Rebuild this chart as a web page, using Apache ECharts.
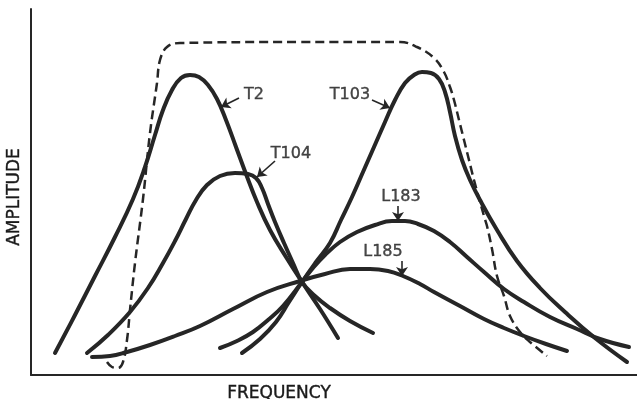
<!DOCTYPE html>
<html>
<head>
<meta charset="utf-8">
<script src="https://cdn.jsdelivr.net/npm/echarts@6/dist/echarts.min.js"></script>
<style>
  html, body { margin: 0; padding: 0; background: #ffffff; }
  #chart { width: 637px; height: 399px; }
</style>
</head>
<body>
<div id="chart"></div>
<script>
// Response curves: [frequency, amplitude] in arbitrary plot units
const curveT2 = [
  [24, 22], [44, 60], [64, 99], [84, 138], [102, 176], [114, 208], [124, 240],
  [132, 265], [141, 285], [150, 297], [159, 300], [168, 298], [177, 290], [186, 276],
  [195, 255], [205, 228], [215, 201], [226, 173], [239, 145], [255, 118], [271, 93],
  [289, 66], [307, 37]
];
const curveT104 = [
  [56, 22], [77, 40], [99, 63], [117, 87], [132, 112], [144, 134], [155, 156],
  [165, 175], [176, 190], [189, 199], [204, 202], [217, 201], [225, 197], [231, 187],
  [237, 171], [244, 153], [253, 132], [262, 112], [271, 93], [284, 79], [299, 67],
  [319, 54], [342, 42]
];
const curveT103 = [
  [211, 22], [229, 36], [245, 53], [258, 73], [271, 93], [285, 113], [299, 132],
  [310, 155], [321, 178], [332, 203], [343, 228], [354, 253], [364, 275], [374, 292],
  [383, 300], [391, 303], [400, 302], [408, 296], [414, 283], [419, 263], [424, 239],
  [431, 215], [439, 195], [449, 175], [466, 145], [486, 114], [509, 87], [534, 63],
  [564, 37], [596, 13]
];
const curveL183 = [
  [189, 27], [206, 34], [222, 43], [237, 55], [252, 69], [271, 93], [282, 107],
  [294, 120], [309, 133], [326, 143], [344, 150], [361, 154], [374, 154], [387, 151],
  [403, 144], [419, 133], [436, 118], [453, 103], [473, 86], [493, 73], [519, 58],
  [546, 46], [569, 36], [598, 28]
];
const curveL185 = [
  [61, 18], [79, 19], [96, 23], [119, 30], [144, 39], [169, 49], [202, 66],
  [236, 83], [269, 94], [294, 101], [319, 106], [339, 106], [357, 104], [372, 99],
  [389, 91], [403, 83], [429, 69], [453, 56], [473, 47], [493, 39], [515, 31],
  [536, 24]
];
// Overall pass-band envelope (dashed)
const envelope = [
  [76, 13], [81, 8], [87, 7], [92, 13], [96, 35], [99, 65], [104, 112], [112, 176],
  [119, 242], [126, 292], [129, 315], [136, 328], [149, 332], [269, 333], [369, 333],
  [386, 328], [403, 317], [413, 303], [419, 288], [423, 275], [428, 255], [433, 235],
  [438, 215], [443, 195], [453, 159], [456, 149], [461, 126], [466, 99], [473, 79],
  [479, 59], [489, 43], [499, 33], [516, 19]
];

// Curve names with label position and callout arrow (from, to)
const calloutNames = ['T2', 'T104', 'T103', 'L183', 'L185'];
const calloutText = [[223, 280], [260, 221], [319, 280], [370, 178], [352, 123]];
const calloutFrom = [[208, 277], [244, 214], [341, 275], [367, 169], [371, 114]];
const calloutTo   = [[190, 268], [226, 198], [359, 267], [367, 154], [371, 99]];

const ink = '#262626';
const textInk = '#1a1a1a';
const font = 'DejaVu Sans';

function curve(name, data) {
  return {
    name: name,
    type: 'line',
    data: data,
    smooth: 0.45,
    showSymbol: false,
    silent: true,
    lineStyle: { color: ink, width: 4, cap: 'round', join: 'round' }
  };
}

const titleText = {
  fontFamily: font, fontSize: 17, color: textInk,
  textBorderColor: textInk, textBorderWidth: 0.4
};

const chart = echarts.init(document.getElementById('chart'), null, { renderer: 'canvas' });

chart.setOption({
  animation: false,
  backgroundColor: '#ffffff',
  grid: { left: 31, right: 0, top: 9, bottom: 24, outerBoundsMode: 'none', containLabel: false },
  xAxis: {
    type: 'value', min: 0, max: 606,
    name: 'FREQUENCY', nameLocation: 'middle', nameGap: 10,
    nameTextStyle: Object.assign({ padding: [0, 110, 0, 0] }, titleText),
    axisLine: { show: true, lineStyle: { color: ink, width: 2 } },
    axisTick: { show: false }, axisLabel: { show: false }, splitLine: { show: false }
  },
  yAxis: {
    type: 'value', min: 0, max: 366,
    name: 'AMPLITUDE', nameLocation: 'middle', nameGap: 8, nameRotate: 90,
    nameTextStyle: Object.assign({ padding: [0, 10, 0, 0] }, titleText),
    axisLine: { show: true, lineStyle: { color: ink, width: 2 } },
    axisTick: { show: false }, axisLabel: { show: false }, splitLine: { show: false }
  },
  series: [
    {
      name: 'envelope',
      type: 'line',
      data: envelope,
      smooth: 0.4,
      showSymbol: false,
      silent: true,
      lineStyle: { color: ink, width: 2.5, type: [9, 5] }
    },
    curve('T2', curveT2),
    curve('T104', curveT104),
    curve('T103', curveT103),
    curve('L183', curveL183),
    curve('L185', curveL185),
    {
      name: 'callouts',
      type: 'scatter',
      symbolSize: 0,
      silent: true,
      data: calloutNames.map((n, i) => [calloutText[i][0], calloutText[i][1], n]),
      label: {
        show: true, position: 'inside',
        formatter: p => p.data[2],
        fontFamily: font, fontSize: 16, color: textInk,
        textBorderColor: textInk, textBorderWidth: 0.4
      },
      markLine: {
        silent: true,
        symbol: ['none', 'arrow'],
        symbolSize: 9,
        label: { show: false },
        lineStyle: { color: ink, width: 1.6, type: 'solid' },
        data: calloutNames.map((n, i) => [{ coord: calloutFrom[i] }, { coord: calloutTo[i] }])
      }
    }
  ]
});
</script>
</body>
</html>
